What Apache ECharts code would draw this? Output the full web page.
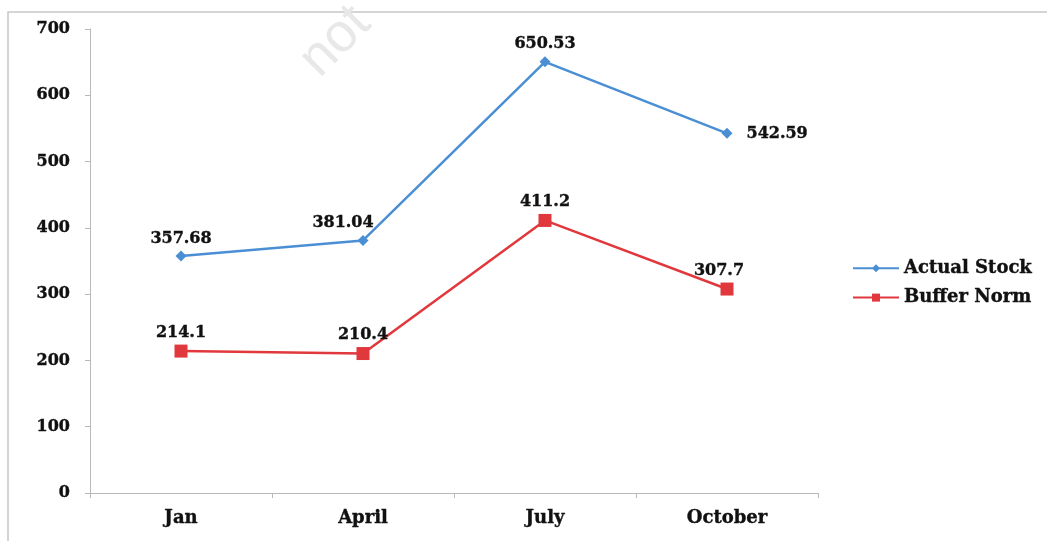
<!DOCTYPE html>
<html>
<head>
<meta charset="utf-8">
<script src="https://cdn.jsdelivr.net/npm/echarts@6/dist/echarts.min.js"></script>
<style>
  html, body { margin: 0; padding: 0; background: #fff; }
  #chart { width: 1047px; height: 541px; }
</style>
</head>
<body>
<div id="chart"></div>
<script>
const months = ['Jan', 'April', 'July', 'October'];
const actualStock = [357.68, 381.04, 650.53, 542.59];
const bufferNorm = [214.1, 210.4, 411.2, 307.7];
const yTicks = [0, 100, 200, 300, 400, 500, 600, 700];

const serif = '"DejaVu Serif", "Liberation Serif", serif';
const blue = '#4a8fd4';
const red = '#e0383d';

// small nudges so labels sit where the original put them
const blueLabelFix = [
  {},
  { offset: [-20, 0] },
  {},
  { position: 'right', distance: 14, offset: [0, 1] },
];
const redLabelFix = [{}, {}, {}, { offset: [-8, 0] }];

const labelBase = {
  show: true,
  position: 'top',
  distance: 4,
  fontFamily: serif,
  fontWeight: 'bold',
  fontSize: 16,
  color: '#111',
  textBorderColor: '#111',
  textBorderWidth: 0.4,
};

const chart = echarts.init(document.getElementById('chart'));

chart.setOption({
  animation: false,
  backgroundColor: '#fff',
  graphic: [
    {
      type: 'rect',
      shape: { x: 8, y: 12, width: 1060, height: 560 },
      style: { fill: 'none', stroke: '#c8c8c8', lineWidth: 1.5 },
      z: -1,
    },
    {
      type: 'text',
      left: 290,
      top: -4,
      rotation: Math.PI / 4,
      style: { text: 'not', font: '54px "Liberation Sans", sans-serif', fill: '#e8e8e8' },
      z: -1,
    },
  ],
  grid: {
    left: 90,
    top: 29,
    width: 728,
    height: 464,
    containLabel: false,
  },
  legend: {
    orient: 'vertical',
    left: 847,
    top: 254,
    itemGap: 11,
    itemWidth: 46,
    itemHeight: 10,
    textStyle: {
      fontFamily: serif, fontWeight: 'bold', fontSize: 18, color: '#111',
      textBorderColor: '#111', textBorderWidth: 0.4,
    },
    data: ['Actual Stock', 'Buffer Norm'],
  },
  xAxis: {
    type: 'category',
    data: months,
    boundaryGap: true,
    axisLine: { lineStyle: { color: '#b8b8b8' } },
    axisTick: { show: true, alignWithLabel: false, length: 5, lineStyle: { color: '#b8b8b8' } },
    axisLabel: {
      fontFamily: serif, fontWeight: 'bold', fontSize: 18, color: '#111', margin: 16,
      textBorderColor: '#111', textBorderWidth: 0.4,
    },
  },
  yAxis: {
    type: 'value',
    min: yTicks[0],
    max: yTicks[yTicks.length - 1],
    interval: 100,
    splitLine: { show: false },
    axisLine: { show: true, lineStyle: { color: '#b8b8b8' } },
    axisTick: { show: true, length: 5, lineStyle: { color: '#b8b8b8' } },
    axisLabel: {
      fontFamily: serif, fontWeight: 'bold', fontSize: 16, color: '#111', margin: 20,
      textBorderColor: '#111', textBorderWidth: 0.4,
    },
  },
  series: [
    {
      name: 'Actual Stock',
      type: 'line',
      data: actualStock.map((v, i) => ({ value: v, label: blueLabelFix[i] })),
      symbol: 'diamond',
      symbolSize: 11,
      itemStyle: { color: blue },
      lineStyle: { color: blue, width: 2.5 },
      label: labelBase,
    },
    {
      name: 'Buffer Norm',
      type: 'line',
      data: bufferNorm.map((v, i) => ({ value: v, label: redLabelFix[i] })),
      symbol: 'rect',
      symbolSize: 13,
      itemStyle: { color: red },
      lineStyle: { color: red, width: 2.5 },
      label: labelBase,
    },
  ],
});
</script>
</body>
</html>
